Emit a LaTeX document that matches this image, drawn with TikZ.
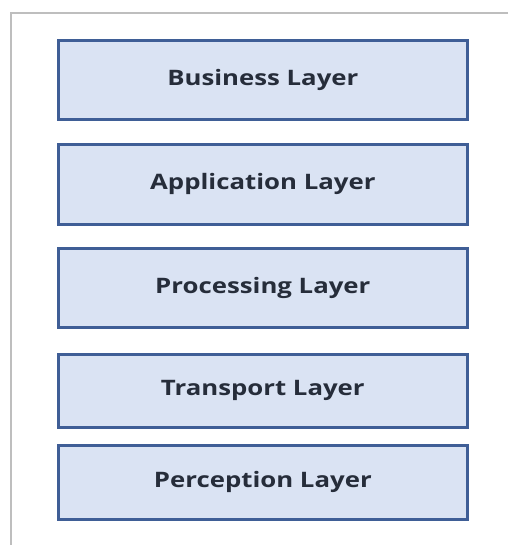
\documentclass[tikz,border=0pt]{standalone}
\usepackage{fontspec}
\setmainfont{Open Sans}[FakeStretch=1.21]
\definecolor{layerfill}{HTML}{DAE3F3}
\definecolor{layerline}{HTML}{3F5E96}
\definecolor{layertext}{HTML}{262D3A}
\definecolor{framegray}{HTML}{BEBEBE}
\begin{document}
\begin{tikzpicture}[x=1pt,y=-1pt,
  layerbox/.style={draw=layerline, line width=2.7pt, fill=layerfill,
    minimum width=409pt, inner sep=0pt, anchor=north west,
    font=\fontsize{21.3}{25}\selectfont\bfseries, text=layertext}]
  \useasboundingbox (0,0) rectangle (508,545);
  % outer frame (top and left edges only)
  \draw[framegray, line width=2pt] (508,13.5) -- (10.5,13.5) -- (10.5,545);
  % stacked layers
  \node[layerbox, minimum height=79pt] (business)    at (57,39)  {Business Layer};
  \node[layerbox, minimum height=80pt] (application) at (57,143) {Application Layer};
  \node[layerbox, minimum height=79pt] (processing)  at (57,247) {Processing Layer};
  \node[layerbox, minimum height=73pt] (transport)   at (57,353) {Transport Layer};
  \node[layerbox, minimum height=74pt] (perception)  at (57,444) {Perception Layer};
\end{tikzpicture}
\end{document}
